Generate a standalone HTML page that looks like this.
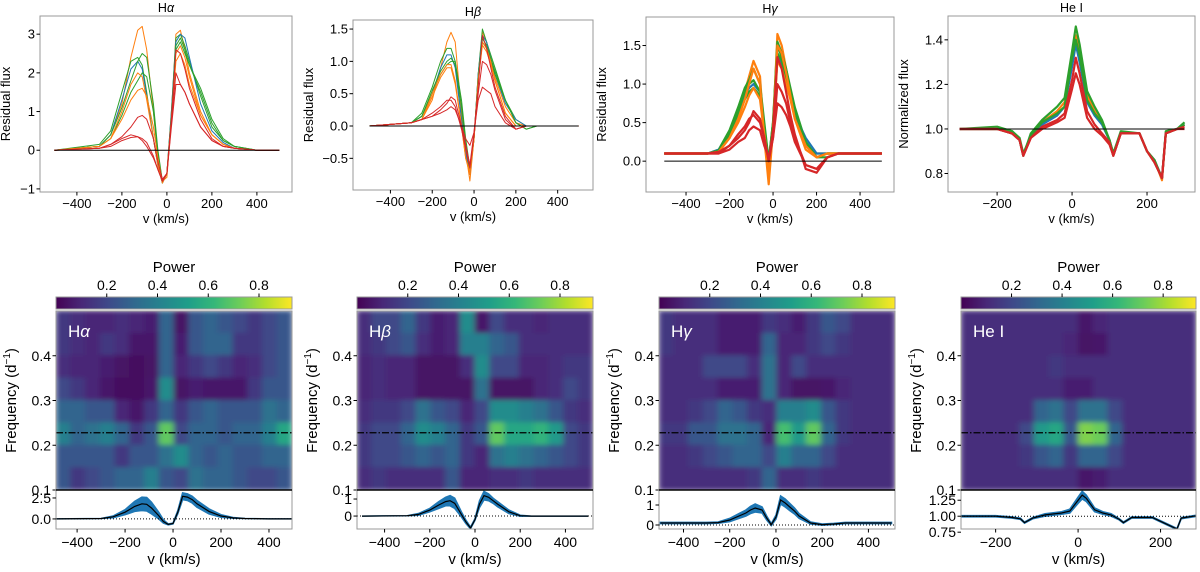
<!DOCTYPE html>
<html><head><meta charset="utf-8"><style>
html,body{margin:0;padding:0;background:#fff;}
svg{display:block;font-family:"Liberation Sans","DejaVu Sans",sans-serif;}
</style></head>
<body>
<svg id="fig" width="1200" height="572" viewBox="0 0 1200 572" xmlns="http://www.w3.org/2000/svg">
<defs>
<filter id="blur" x="0" y="0" width="1" height="1"><feGaussianBlur stdDeviation="3 2.5" edgeMode="duplicate"/></filter>
<linearGradient id="viridis" x1="0" x2="1" y1="0" y2="0">
<stop offset="0" stop-color="#440154"/><stop offset="0.11" stop-color="#482878"/><stop offset="0.22" stop-color="#3e4989"/><stop offset="0.33" stop-color="#31688e"/><stop offset="0.44" stop-color="#26828e"/><stop offset="0.56" stop-color="#1f9e89"/><stop offset="0.67" stop-color="#35b779"/><stop offset="0.78" stop-color="#6dcd59"/><stop offset="0.89" stop-color="#b4de2c"/><stop offset="1" stop-color="#fde725"/>
</linearGradient>
</defs>
</svg>
<script>
// ---------- DATA ----------
const gridH = [-500,-300,-250,-200,-160,-130,-110,-90,-60,-40,-20,0,20,40,60,80,100,150,200,250,300,400,500];
const gridHe = [-300,-200,-160,-140,-130,-110,-80,-40,-20,0,10,20,40,60,80,100,110,130,180,200,220,240,250,280,300];
const seriesColors = ['#ff7f0e','#2ca02c','#1f77b4','#2ca02c','#2ca02c','#ff7f0e','#ff7f0e','#d62728','#d62728','#d62728'];
const haSeries = [
[0,0.1,0.4,1.2,2.4,3.1,3.2,2.6,1.0,-0.2,-0.8,-0.7,0.8,3.0,3.1,2.6,2.0,1.0,0.4,0.15,0.05,0,0],
[0,0.15,0.5,1.5,2.3,2.4,2.2,1.5,0.3,-0.4,-0.85,-0.6,1.0,2.9,3.0,2.7,2.3,1.4,0.6,0.25,0.1,0,0],
[0,0.1,0.4,1.3,2.1,2.3,2.1,1.4,0.3,-0.4,-0.85,-0.6,1.0,2.8,3.0,2.9,2.4,1.2,0.5,0.2,0.05,0,0],
[0,0.1,0.4,1.1,1.8,2.3,2.5,2.4,1.2,0.0,-0.8,-0.6,0.9,2.7,2.9,2.6,2.2,1.6,0.8,0.3,0.1,0,0],
[0,0.1,0.3,0.9,1.5,1.8,2.0,1.9,1.0,-0.1,-0.8,-0.6,0.8,2.6,2.8,2.5,2.2,1.5,0.7,0.25,0.1,0,0],
[0,0.1,0.3,1.0,1.7,2.0,1.9,1.3,0.3,-0.4,-0.85,-0.6,0.8,2.5,2.7,2.4,1.9,0.9,0.4,0.15,0.05,0,0],
[0,0.1,0.3,0.8,1.3,1.55,1.6,1.4,0.6,-0.2,-0.8,-0.6,0.8,2.3,2.5,2.2,1.7,0.9,0.4,0.15,0.05,0,0],
[0,0.05,0.15,0.35,0.6,0.85,0.9,0.8,0.3,-0.3,-0.75,-0.6,0.8,2.6,2.5,2.1,1.6,0.8,0.3,0.1,0.05,0,0],
[0,0.05,0.15,0.3,0.4,0.35,0.25,0.1,-0.2,-0.5,-0.8,-0.6,0.7,2.0,1.7,1.5,1.2,0.6,0.25,0.1,0.05,0,0],
[0,0.05,0.1,0.25,0.33,0.35,0.3,0.2,-0.15,-0.5,-0.8,-0.6,0.6,1.7,1.7,1.5,1.2,0.6,0.25,0.1,0.05,0,0]];
const hbSeries = [
[0,0.05,0.1,0.4,0.9,1.3,1.45,1.3,0.2,-0.4,-0.85,-0.2,0.8,1.45,1.3,1.0,0.75,0.3,0.05,0,0,0,0],
[0,0.05,0.2,0.6,1.0,1.2,1.2,1.0,0.1,-0.4,-0.7,-0.2,0.8,1.5,1.3,1.1,0.9,0.4,0.1,0,0,0,0],
[0,0.05,0.15,0.5,0.9,1.1,1.1,0.9,0.1,-0.4,-0.75,-0.2,0.8,1.4,1.3,1.05,0.8,0.35,0.1,0,0,0,0],
[0,0.05,0.15,0.5,0.8,0.95,1.0,1.0,0.4,-0.2,-0.65,-0.2,0.7,1.3,1.2,1.0,0.8,0.4,0.05,-0.05,0,0,0],
[0,0.05,0.15,0.55,0.85,1.0,1.05,0.95,0.3,-0.3,-0.7,-0.2,0.75,1.35,1.25,1.05,0.85,0.4,0.05,-0.05,0,0,0],
[0,0.05,0.1,0.5,0.8,0.95,0.95,0.7,0,-0.5,-0.7,-0.2,0.7,1.3,1.2,1.0,0.7,0.2,0,0,0,0,0],
[0,0.05,0.1,0.45,0.75,0.9,0.9,0.65,0,-0.5,-0.75,-0.2,0.7,1.25,1.15,0.95,0.7,0.2,0,0,0,0,0],
[0,0.05,0.1,0.15,0.25,0.35,0.45,0.4,0.0,-0.3,-0.6,-0.1,0.6,1.4,1.2,0.9,0.6,0.15,-0.05,0,0,0,0],
[0,0.05,0.1,0.15,0.2,0.25,0.3,0.25,0.0,-0.2,-0.3,-0.1,0.4,0.6,0.55,0.5,0.3,0.05,-0.05,0,0,0,0],
[0,0.05,0.1,0.2,0.3,0.4,0.4,0.3,-0.05,-0.35,-0.65,-0.15,0.5,1.0,0.95,0.8,0.55,0.1,-0.05,0,0,0,0]];
const hgSeries = [
[0.1,0.1,0.12,0.3,0.6,0.9,1.1,1.3,1.1,0.3,-0.3,0.4,1.65,1.5,1.2,0.9,0.6,0.2,0.1,0.1,0.1,0.1,0.1],
[0.1,0.1,0.15,0.4,0.7,0.95,1.05,1.2,1.0,0.5,0.0,0.5,1.55,1.4,1.2,0.95,0.7,0.25,0.05,0.05,0.1,0.1,0.1],
[0.1,0.1,0.15,0.35,0.6,0.85,0.95,1.0,0.9,0.4,0.0,0.4,1.35,1.25,1.05,0.85,0.6,0.3,0.1,0.1,0.1,0.1,0.1],
[0.1,0.1,0.12,0.35,0.6,0.8,0.9,0.95,0.85,0.4,0.0,0.5,1.4,1.3,1.1,0.9,0.65,0.25,0.05,0.1,0.1,0.1,0.1],
[0.1,0.1,0.14,0.38,0.65,0.9,1.0,1.05,0.9,0.45,0.0,0.45,1.5,1.35,1.15,0.9,0.65,0.25,0.05,0.1,0.1,0.1,0.1],
[0.1,0.1,0.12,0.3,0.55,0.8,1.0,1.2,1.0,0.3,-0.2,0.4,1.5,1.4,1.15,0.85,0.55,0.15,0.05,0.1,0.1,0.1,0.1],
[0.1,0.1,0.12,0.3,0.5,0.7,0.85,0.95,0.8,0.35,-0.05,0.4,1.3,1.2,1.0,0.8,0.55,0.2,0.05,0.1,0.1,0.1,0.1],
[0.1,0.1,0.12,0.2,0.35,0.45,0.55,0.6,0.5,0.3,0.0,0.3,1.0,0.9,0.75,0.5,0.3,-0.05,-0.1,0.05,0.1,0.1,0.1],
[0.1,0.1,0.1,0.2,0.3,0.4,0.5,0.65,0.55,0.3,0.0,0.4,1.35,1.2,0.9,0.6,0.35,-0.1,-0.15,0.05,0.1,0.1,0.1],
[0.1,0.1,0.1,0.15,0.25,0.3,0.4,0.45,0.4,0.2,0.05,0.3,0.75,0.7,0.6,0.45,0.25,-0.05,-0.1,0.05,0.1,0.1,0.1]];
const heSeries = [
[1,1,0.98,0.95,0.88,0.97,1.03,1.08,1.12,1.3,1.42,1.35,1.15,1.08,1.03,0.95,0.88,0.98,0.98,0.9,0.86,0.77,0.98,1,1.02],
[1,1.01,0.99,0.95,0.88,0.98,1.04,1.1,1.14,1.35,1.46,1.38,1.17,1.1,1.04,0.95,0.89,0.99,0.98,0.9,0.85,0.78,0.99,1,1.03],
[1,1,0.98,0.95,0.88,0.97,1.02,1.06,1.1,1.28,1.38,1.3,1.12,1.06,1.02,0.95,0.88,0.98,0.98,0.9,0.86,0.78,0.98,1,1.02],
[1,1,0.99,0.96,0.89,0.97,1.03,1.07,1.1,1.32,1.4,1.33,1.13,1.07,1.03,0.95,0.89,0.98,0.98,0.9,0.86,0.78,0.98,1,1.02],
[1,1,0.98,0.95,0.88,0.96,1.0,1.03,1.05,1.18,1.25,1.2,1.05,1.0,0.97,0.93,0.88,0.98,0.98,0.9,0.85,0.78,0.98,1,1.0],
[1,1,0.98,0.95,0.88,0.96,1.01,1.04,1.07,1.22,1.32,1.25,1.08,1.02,0.98,0.94,0.88,0.98,0.98,0.9,0.85,0.78,0.98,1,1.01]];
const heColors = ['#ff7f0e','#2ca02c','#1f77b4','#2ca02c','#d62728','#d62728'];

const haMean = [0,0.05,0.25,0.8,1.5,1.8,1.75,1.3,0.4,-0.3,-0.65,-0.55,0.8,2.7,2.6,2.3,1.8,0.9,0.35,0.12,0.05,0,0];
const haSd   = [0,0,0.1,0.3,0.6,0.8,0.8,0.7,0.4,0.2,0.05,0.05,0.2,0.4,0.4,0.4,0.4,0.3,0.15,0.05,0,0,0];
const hbMean = [0,0.02,0.1,0.35,0.65,0.85,0.9,0.75,0.1,-0.35,-0.7,-0.2,0.7,1.2,1.1,0.9,0.7,0.25,0.02,0,0,0,0];
const hbSd   = [0,0,0.05,0.1,0.2,0.25,0.3,0.3,0.15,0.1,0.05,0.05,0.2,0.25,0.2,0.15,0.15,0.1,0.03,0,0,0,0];
const hgMean = [0.1,0.1,0.12,0.25,0.45,0.6,0.75,0.85,0.75,0.35,0.02,0.4,1.25,1.1,0.9,0.7,0.45,0.1,0.02,0.05,0.1,0.1,0.1];
const hgSd   = [0.03,0.03,0.03,0.08,0.12,0.15,0.18,0.2,0.15,0.1,0.05,0.1,0.2,0.2,0.18,0.15,0.12,0.05,0.03,0.03,0.03,0.03,0.03];
const heMean = [1,1,0.98,0.96,0.9,0.97,1.02,1.05,1.08,1.25,1.33,1.28,1.1,1.05,1.02,0.95,0.9,0.98,0.98,0.92,0.86,0.8,0.97,1,1.02];
const heSd   = [0.01,0.01,0.01,0.01,0.01,0.01,0.02,0.02,0.03,0.05,0.06,0.05,0.03,0.02,0.02,0.01,0.01,0.01,0.01,0.01,0.01,0.01,0.01,0.01,0.01];

const freqRows = [0.475,0.425,0.375,0.325,0.275,0.225,0.175,0.125];
const haPower = [
[.15,.12,.1,.1,.12,.1,.08,.3,.05,.25,.3,.25,.2,.15,.2,.25],
[.15,.12,.1,.15,.12,.06,.06,.3,.08,.25,.3,.3,.15,.15,.2,.25],
[.12,.1,.1,.08,.05,.03,.05,.3,.1,.15,.2,.15,.1,.12,.2,.25],
[.2,.15,.1,.06,.03,.03,.06,.45,.05,.08,.06,.06,.06,.15,.25,.25],
[.3,.3,.25,.25,.1,.06,.15,.3,.15,.25,.3,.25,.25,.25,.35,.3],
[.4,.3,.35,.4,.3,.15,.25,.7,.2,.3,.3,.25,.3,.3,.4,.55],
[.25,.25,.25,.25,.15,.25,.25,.35,.45,.3,.25,.3,.25,.25,.3,.3],
[.25,.15,.2,.25,.3,.3,.4,.25,.2,.35,.3,.3,.25,.2,.2,.25]];
const hbPower = [
[.12,.2,.2,.3,.15,.08,.1,.45,.06,.2,.12,.12,.1,.12,.12,.12],
[.12,.15,.2,.25,.12,.08,.1,.4,.4,.3,.25,.12,.12,.12,.12,.12],
[.1,.12,.1,.1,.05,.05,.05,.12,.45,.2,.2,.1,.1,.12,.15,.15],
[.1,.12,.1,.1,.05,.05,.05,.05,.35,.05,.05,.05,.1,.12,.2,.15],
[.12,.15,.15,.2,.35,.25,.2,.1,.2,.45,.45,.4,.35,.25,.15,.12],
[.15,.2,.2,.3,.45,.4,.3,.15,.25,.7,.55,.55,.6,.5,.2,.15],
[.15,.2,.2,.25,.3,.25,.3,.15,.1,.35,.4,.35,.3,.25,.2,.15],
[.12,.15,.12,.12,.12,.12,.25,.1,.1,.12,.12,.15,.12,.12,.12,.12]];
const hgPower = [
[.15,.12,.12,.12,.08,.08,.08,.15,.12,.08,.15,.25,.2,.12,.12,.12],
[.15,.12,.12,.12,.08,.08,.08,.3,.1,.1,.15,.2,.15,.12,.12,.12],
[.12,.12,.12,.2,.2,.2,.12,.35,.1,.2,.12,.12,.12,.12,.12,.12],
[.12,.12,.12,.12,.08,.08,.08,.35,.1,.05,.05,.06,.1,.12,.12,.12],
[.12,.12,.15,.2,.3,.25,.15,.12,.4,.4,.45,.25,.15,.12,.12,.12],
[.15,.15,.25,.25,.35,.35,.3,.1,.65,.5,.7,.3,.15,.12,.12,.12],
[.12,.12,.15,.2,.25,.3,.3,.2,.4,.3,.3,.2,.12,.12,.12,.12],
[.12,.12,.12,.12,.12,.12,.15,.3,.12,.12,.15,.12,.12,.12,.12,.12]];
const hePower = [
[.12,.12,.12,.12,.12,.12,.12,.12,.06,.1,.12,.12,.12,.12,.12,.12],
[.12,.12,.12,.12,.12,.12,.12,.1,.05,.06,.12,.12,.12,.12,.12,.12],
[.12,.12,.12,.12,.12,.12,.15,.12,.12,.12,.12,.12,.12,.12,.12,.12],
[.12,.12,.12,.12,.12,.12,.12,.08,.08,.12,.12,.12,.12,.12,.12,.12],
[.12,.12,.12,.12,.12,.3,.35,.2,.35,.35,.2,.12,.12,.12,.12,.12],
[.12,.12,.12,.12,.2,.5,.55,.25,.75,.72,.3,.12,.12,.12,.12,.12],
[.12,.12,.12,.12,.15,.25,.3,.15,.3,.3,.2,.12,.12,.12,.12,.12],
[.12,.12,.12,.12,.12,.12,.12,.12,.06,.08,.12,.12,.12,.12,.12,.12]];
const powerTicks = [0.2,0.4,0.6,0.8];
const freqTicks = [0.1,0.2,0.3,0.4];
const markedFreq = 0.228;

// ---------- HELPERS ----------
const NS='http://www.w3.org/2000/svg';
const svg=document.getElementById('fig');
function mk(tag,attrs,parent){const e=document.createElementNS(NS,tag);for(const k in attrs)e.setAttribute(k,attrs[k]);(parent||svg).appendChild(e);return e;}
function lin(d0,d1,r0,r1){return v=>r0+(v-d0)/(d1-d0)*(r1-r0);}
const VIR=[[68,1,84],[72,40,120],[62,74,137],[49,104,142],[38,130,142],[31,158,137],[53,183,121],[109,205,89],[180,222,44],[253,231,37]];
function viridis(t){t=Math.max(0,Math.min(1,t))*(VIR.length-1);const i=Math.min(Math.floor(t),VIR.length-2),f=t-i;const c=VIR[i].map((a,k)=>Math.round(a+(VIR[i+1][k]-a)*f));return `rgb(${c[0]},${c[1]},${c[2]})`;}
function txt(x,y,s,size,anchor,parent,extra){const t=mk('text',Object.assign({x:x,y:y,'font-size':size,'text-anchor':anchor||'middle',fill:'#000'},extra||{}),parent);t.textContent=s;return t;}
function fmt(v,dec){return (v<0?'\u2212':'')+Math.abs(v).toFixed(dec);}

// ---------- TOP LINE PLOTS ----------
const topPanels=[
 {title:'H',greek:'α',x0:40,x1:292,y0:16,y1:192,xd:[-564,556],yd:[-1.08,3.47],grid:gridH,series:haSeries,colors:seriesColors,xt:[-400,-200,0,200,400],yt:[-1,0,1,2,3],ydec:0,ylab:'Residual flux',base:0,name:'halpha'},
 {title:'H',greek:'β',x0:353,x1:593,y0:20,y1:190,xd:[-579,569],yd:[-0.99,1.64],grid:gridH,series:hbSeries,colors:seriesColors,xt:[-400,-200,0,200,400],yt:[-0.5,0,0.5,1,1.5],ydec:1,ylab:'Residual flux',base:0,name:'hbeta'},
 {title:'H',greek:'γ',x0:646,x1:894,y0:17,y1:192,xd:[-584,556],yd:[-0.40,1.87],grid:gridH,series:hgSeries,colors:seriesColors,xt:[-400,-200,0,200,400],yt:[0,0.5,1,1.5],ydec:1,ylab:'Residual flux',base:0,name:'hgamma'},
 {title:'He I',greek:'',x0:948,x1:1195,y0:16,y1:192,xd:[-331,328],yd:[0.717,1.507],grid:gridHe,series:heSeries,colors:heColors,xt:[-200,0,200],yt:[0.8,1.0,1.2,1.4],ydec:1,ylab:'Normalized flux',base:1,name:'hei'}];

topPanels.forEach(p=>{
 const g=mk('g',{});
 
 
 const X=lin(p.xd[0],p.xd[1],p.x0,p.x1),Y=lin(p.yd[0],p.yd[1],p.y1,p.y0);
 const clipId='c'+p.name;
 const cp=mk('clipPath',{id:clipId},g);mk('rect',{x:p.x0,y:p.y0,width:p.x1-p.x0,height:p.y1-p.y0},cp);
 p.series.forEach((s,i)=>{
  const d=s.map((v,k)=>(k?'L':'M')+X(p.grid[k]).toFixed(1)+','+Y(v).toFixed(1)).join('');
  const path=mk('path',{d:d,fill:'none',stroke:p.colors[i],'stroke-width':p.name==='hgamma'||p.name==='hei'?2.2:1,'stroke-linejoin':'round','clip-path':`url(#${clipId})`},g);
  
  
 });
 const bl=mk('line',{x1:X(p.name==='hei'?-300:-500),x2:X(p.name==='hei'?300:500),y1:Y(p.base),y2:Y(p.base),stroke:'#000','stroke-width':1},g);
 
 
 const fr=mk('rect',{x:p.x0,y:p.y0,width:p.x1-p.x0,height:p.y1-p.y0,fill:'none',stroke:'#999','stroke-width':1},g);
 
 
 p.xt.forEach(v=>{mk('line',{x1:X(v),x2:X(v),y1:p.y1,y2:p.y1+3.5,stroke:'#000'},g);
  const t=txt(X(v),p.y1+16,fmt(v,0),13,'middle',g);
  
  });
 p.yt.forEach(v=>{mk('line',{x1:p.x0-3.5,x2:p.x0,y1:Y(v),y2:Y(v),stroke:'#000'},g);
  const t=txt(p.x0-5,Y(v)+4.5,fmt(v,p.ydec),13,'end',g);
  
  });
 const xl=txt((p.x0+p.x1)/2,p.y1+31,'v (km/s)',13,'middle',g);
 
 
 const ylx=p.x0-(p.name==='halpha'?30:40);
 const yl=txt(ylx,(p.y0+p.y1)/2,p.ylab,13,'middle',g,{transform:`rotate(-90 ${ylx} ${(p.y0+p.y1)/2})`});
 
 
 const tt=txt((p.x0+p.x1)/2,p.y0-4,p.title,12.5,'middle',g);
 if(p.greek){const ts=mk('tspan',{'font-style':'italic'},tt);ts.textContent=p.greek;}
 
 
});

// ---------- BOTTOM PERIODOGRAMS ----------
const botPanels=[
 {x0:56,x1:292,xd:[-488,496],sd:[-1.2,3.45],st:[0,2.5],sdec:1,grid:gridH,mean:haMean,sdv:haSd,power:haPower,xt:[-400,-200,0,200,400],lab:'H',greek:'α',base:0,name:'halpha'},
 {x0:357,x1:593,xd:[-522,522],sd:[-0.76,1.53],st:[0,1],sdec:0,grid:gridH,mean:hbMean,sdv:hbSd,power:hbPower,xt:[-400,-200,0,200,400],lab:'H',greek:'β',base:0,name:'hbeta'},
 {x0:659,x1:895,xd:[-506,515],sd:[-0.2,1.75],st:[0,1],sdec:0,grid:gridH,mean:hgMean,sdv:hgSd,power:hgPower,xt:[-400,-200,0,200,400],lab:'H',greek:'γ',base:0,name:'hgamma'},
 {x0:961,x1:1196,xd:[-284,286],sd:[0.8,1.41],st:[0.75,1.0,1.25],sdec:2,grid:gridHe,mean:heMean,sdv:heSd,power:hePower,xt:[-200,0,200],lab:'He I',greek:'',base:1,name:'hei'}];
const HM_Y0=311,HM_Y1=490,ST_Y1=529,CB_Y0=297,CB_Y1=309,PMAX=0.93;
const F=lin(0.1,0.5,HM_Y1,HM_Y0);

botPanels.forEach(p=>{
 const g=mk('g',{});
 
 
 const X=lin(p.xd[0],p.xd[1],p.x0,p.x1);
 const w=p.x1-p.x0;
 const cb=mk('rect',{x:p.x0,y:CB_Y0,width:w,height:CB_Y1-CB_Y0,fill:'url(#viridis)',stroke:'#999','stroke-width':1},g);
 
 
 const C=lin(0,PMAX,p.x0,p.x1);
 powerTicks.forEach(v=>{mk('line',{x1:C(v),x2:C(v),y1:CB_Y0,y2:CB_Y0-3.5,stroke:'#000'},g);
  const t=txt(C(v),CB_Y0-7,v.toFixed(1),14,'middle',g);
  
  });
 const pl=txt((p.x0+p.x1)/2,272,'Power',15,'middle',g);
 
 
 const cid='h'+p.name;
 const cp=mk('clipPath',{id:cid},g);mk('rect',{x:p.x0,y:HM_Y0,width:w,height:HM_Y1-HM_Y0},cp);
 const hg=mk('g',{'clip-path':`url(#${cid})`},g);
 const inner=mk('g',{filter:'url(#blur)'},hg);
 const ncol=p.power[0].length,cw=(p.xd[1]-p.xd[0])/ncol;
 p.power.forEach((row,r)=>{
  const fTop=freqRows[r]+0.025,fBot=freqRows[r]-0.025;
  row.forEach((v,c)=>{
   const xa=X(p.xd[0]+c*cw),xb=X(p.xd[0]+(c+1)*cw);
   const cell=mk('rect',{x:xa-0.5,y:F(fTop)-0.5,width:xb-xa+1,height:F(fBot)-F(fTop)+1,fill:viridis(v/PMAX)},inner);
   
   
  });
 });
 const dl=mk('line',{x1:p.x0,x2:p.x1,y1:F(markedFreq),y2:F(markedFreq),stroke:'#000','stroke-width':1.2,'stroke-dasharray':'7,2,1.5,2'},g);
 
 
 const hf=mk('rect',{x:p.x0,y:HM_Y0,width:w,height:HM_Y1-HM_Y0,fill:'none',stroke:'#999'},g);
 
 
 const lb=txt(p.x0+12,337,p.lab,17,'start',g,{fill:'#fff'});
 if(p.greek){const ts=mk('tspan',{'font-style':'italic'},lb);ts.textContent=p.greek;}
 
 
 freqTicks.forEach(v=>{mk('line',{x1:p.x0-3.5,x2:p.x0,y1:F(v),y2:F(v),stroke:'#000'},g);
  const t=txt(p.x0-5,F(v)+5,v.toFixed(1),14,'end',g);
  
  });
 const fyx=p.x0-40,fyy=(HM_Y0+HM_Y1)/2;
 const fl=txt(fyx,fyy,'Frequency (d',15,'middle',g,{transform:`rotate(-90 ${fyx} ${fyy})`});
 const sup=mk('tspan',{'font-size':10,dy:-6},fl);sup.textContent='\u22121';
 const cl=mk('tspan',{dy:6},fl);cl.textContent=')';
 
 
 const S=lin(p.sd[0],p.sd[1],ST_Y1,HM_Y1);
 const sc='s'+p.name;
 const scp=mk('clipPath',{id:sc},g);mk('rect',{x:p.x0,y:HM_Y1,width:w,height:ST_Y1-HM_Y1},scp);
 const sg=mk('g',{'clip-path':`url(#${sc})`},g);
 const up=p.mean.map((m,k)=>X(p.grid[k]).toFixed(1)+','+S(m+p.sdv[k]).toFixed(1));
 const dn=p.mean.map((m,k)=>X(p.grid[k]).toFixed(1)+','+S(m-p.sdv[k]).toFixed(1)).reverse();
 const band=mk('path',{d:'M'+up.join('L')+'L'+dn.join('L')+'Z',fill:'#1f77b4',stroke:'#1f77b4','stroke-width':1.5},sg);
 
 
 const bd=mk('line',{x1:p.x0,x2:p.x1,y1:S(p.base),y2:S(p.base),stroke:'#000','stroke-width':1,'stroke-dasharray':'1,2'},sg);
 
 
 const ml=mk('path',{d:p.mean.map((m,k)=>(k?'L':'M')+X(p.grid[k]).toFixed(1)+','+S(m).toFixed(1)).join(''),fill:'none',stroke:'#000','stroke-width':1.2},sg);
 
 
 const sf=mk('rect',{x:p.x0,y:HM_Y1,width:w,height:ST_Y1-HM_Y1,fill:'none',stroke:'#999'},g);
 
 
 mk('line',{x1:p.x0,x2:p.x1,y1:HM_Y1,y2:HM_Y1,stroke:'#000','stroke-width':1.5},g);
 p.st.forEach(v=>{mk('line',{x1:p.x0-3.5,x2:p.x0,y1:S(v),y2:S(v),stroke:'#000'},g);
  const t=txt(p.x0-5,S(v)+5,p.sdec===1?v.toFixed(1):(p.sdec===2?v.toFixed(2):String(v)),14,'end',g);
  
  });
 p.xt.forEach(v=>{mk('line',{x1:X(v),x2:X(v),y1:ST_Y1,y2:ST_Y1+3.5,stroke:'#000'},g);
  const t=txt(X(v),ST_Y1+18,fmt(v,0),14,'middle',g);
  
  });
 const vl=txt((p.x0+p.x1)/2,564,'v (km/s)',15,'middle',g);
 
 
});
</script>
</body></html>
